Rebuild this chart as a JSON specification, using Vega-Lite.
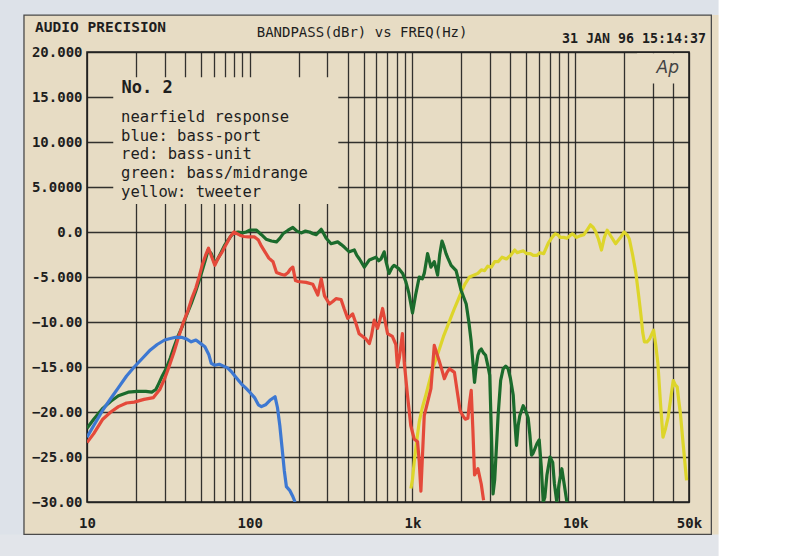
{
  "$schema": "https://vega.github.io/schema/vega-lite/v6.json",
  "width": 602,
  "height": 450,
  "autosize": {"type": "none"},
  "padding": {"left": 87, "top": 52, "right": 111, "bottom": 54},
  "background": "#e7dcc4",
  "config": {"view": {"stroke": "#222222", "strokeWidth": 1.6}, "font": "DejaVu Sans Mono"},
  "datasets": {
    "curves": [
      {"s":"blue","f":10,"db":-22.8},{"s":"blue","f":11,"db":-21.5},{"s":"blue","f":12.5,"db":-19.8},{"s":"blue","f":14,"db":-18.5},{"s":"blue","f":15.6,"db":-17.3},{"s":"blue","f":17.5,"db":-16.0},{"s":"blue","f":19.5,"db":-15.0},{"s":"blue","f":22,"db":-14.0},{"s":"blue","f":24.5,"db":-13.1},{"s":"blue","f":27,"db":-12.5},{"s":"blue","f":30,"db":-12.0},{"s":"blue","f":33,"db":-11.8},{"s":"blue","f":35,"db":-11.7},{"s":"blue","f":38,"db":-11.7},{"s":"blue","f":41,"db":-11.9},{"s":"blue","f":43.7,"db":-12.2},{"s":"blue","f":46.7,"db":-12.0},{"s":"blue","f":50,"db":-12.4},{"s":"blue","f":53,"db":-12.75},{"s":"blue","f":56,"db":-13.6},{"s":"blue","f":58,"db":-14.6},{"s":"blue","f":61,"db":-14.8},{"s":"blue","f":65,"db":-14.7},{"s":"blue","f":69,"db":-14.9},{"s":"blue","f":73,"db":-15.1},{"s":"blue","f":77,"db":-15.5},{"s":"blue","f":81,"db":-16.0},{"s":"blue","f":89,"db":-16.9},{"s":"blue","f":94,"db":-17.3},{"s":"blue","f":100,"db":-17.8},{"s":"blue","f":107,"db":-18.4},{"s":"blue","f":113,"db":-19.2},{"s":"blue","f":118,"db":-19.4},{"s":"blue","f":125,"db":-19.2},{"s":"blue","f":133,"db":-18.7},{"s":"blue","f":143,"db":-18.3},{"s":"blue","f":148,"db":-19.5},{"s":"blue","f":153,"db":-21.5},{"s":"blue","f":158,"db":-24.0},{"s":"blue","f":163,"db":-26.5},{"s":"blue","f":168,"db":-28.3},{"s":"blue","f":176,"db":-28.7},{"s":"blue","f":183,"db":-29.3},{"s":"blue","f":190,"db":-30},

      {"s":"red","f":10,"db":-23.4},{"s":"red","f":11,"db":-22.4},{"s":"red","f":12.5,"db":-20.8},{"s":"red","f":14,"db":-20.0},{"s":"red","f":15.6,"db":-19.4},{"s":"red","f":17.5,"db":-19.0},{"s":"red","f":19.5,"db":-18.9},{"s":"red","f":22.4,"db":-18.6},{"s":"red","f":25.6,"db":-18.4},{"s":"red","f":28,"db":-17.5},{"s":"red","f":30,"db":-16.3},{"s":"red","f":32,"db":-14.9},{"s":"red","f":34.3,"db":-13.3},{"s":"red","f":36.6,"db":-11.6},{"s":"red","f":39,"db":-10.1},{"s":"red","f":41.8,"db":-8.7},{"s":"red","f":44,"db":-7.4},{"s":"red","f":46.7,"db":-6.2},{"s":"red","f":49,"db":-4.9},{"s":"red","f":51,"db":-3.7},{"s":"red","f":53.5,"db":-2.6},{"s":"red","f":55.8,"db":-1.8},{"s":"red","f":58.5,"db":-2.8},{"s":"red","f":61,"db":-3.7},{"s":"red","f":64,"db":-2.9},{"s":"red","f":67,"db":-2.35},{"s":"red","f":70,"db":-1.7},{"s":"red","f":73,"db":-1.1},{"s":"red","f":76,"db":-0.5},{"s":"red","f":80,"db":0.0},{"s":"red","f":84,"db":-0.2},{"s":"red","f":87,"db":-0.35},{"s":"red","f":92,"db":-0.5},{"s":"red","f":98,"db":-0.55},{"s":"red","f":107,"db":-0.55},{"s":"red","f":113,"db":-0.9},{"s":"red","f":117,"db":-1.45},{"s":"red","f":124,"db":-2.2},{"s":"red","f":131,"db":-2.9},{"s":"red","f":139,"db":-3.3},{"s":"red","f":146,"db":-4.5},{"s":"red","f":156,"db":-4.7},{"s":"red","f":164,"db":-4.8},{"s":"red","f":172,"db":-4.5},{"s":"red","f":178,"db":-4.1},{"s":"red","f":184,"db":-3.9},{"s":"red","f":191,"db":-5.4},{"s":"red","f":198,"db":-5.5},{"s":"red","f":222,"db":-5.6},{"s":"red","f":244,"db":-5.8},{"s":"red","f":262,"db":-7.0},{"s":"red","f":275,"db":-5.2},{"s":"red","f":288,"db":-7.1},{"s":"red","f":309,"db":-8.0},{"s":"red","f":325,"db":-7.7},{"s":"red","f":339,"db":-7.4},{"s":"red","f":364,"db":-7.5},{"s":"red","f":380,"db":-8.5},{"s":"red","f":400,"db":-9.6},{"s":"red","f":429,"db":-9.1},{"s":"red","f":450,"db":-10.2},{"s":"red","f":470,"db":-11.3},{"s":"red","f":518,"db":-11.9},{"s":"red","f":543,"db":-12.4},{"s":"red","f":560,"db":-11.5},{"s":"red","f":582,"db":-9.8},{"s":"red","f":610,"db":-10.7},{"s":"red","f":630,"db":-9.8},{"s":"red","f":655,"db":-8.5},{"s":"red","f":680,"db":-10.0},{"s":"red","f":703,"db":-11.3},{"s":"red","f":752,"db":-11.6},{"s":"red","f":790,"db":-12.5},{"s":"red","f":808,"db":-15.0},{"s":"red","f":830,"db":-14.0},{"s":"red","f":867,"db":-11.3},{"s":"red","f":890,"db":-14.5},{"s":"red","f":931,"db":-18.1},{"s":"red","f":976,"db":-21.5},{"s":"red","f":1024,"db":-23.0},{"s":"red","f":1074,"db":-23.3},{"s":"red","f":1100,"db":-25.5},{"s":"red","f":1126,"db":-28.8},{"s":"red","f":1181,"db":-20.4},{"s":"red","f":1238,"db":-18.9},{"s":"red","f":1298,"db":-17.4},{"s":"red","f":1361,"db":-12.6},{"s":"red","f":1410,"db":-13.5},{"s":"red","f":1463,"db":-14.4},{"s":"red","f":1520,"db":-15.4},{"s":"red","f":1570,"db":-16.3},{"s":"red","f":1630,"db":-15.6},{"s":"red","f":1686,"db":-15.2},{"s":"red","f":1750,"db":-15.4},{"s":"red","f":1810,"db":-15.6},{"s":"red","f":1897,"db":-18.1},{"s":"red","f":1960,"db":-19.8},{"s":"red","f":2037,"db":-20.4},{"s":"red","f":2110,"db":-20.8},{"s":"red","f":2189,"db":-20.7},{"s":"red","f":2240,"db":-19.0},{"s":"red","f":2295,"db":-17.6},{"s":"red","f":2350,"db":-22.0},{"s":"red","f":2406,"db":-27.0},{"s":"red","f":2523,"db":-26.3},{"s":"red","f":2645,"db":-28.0},{"s":"red","f":2734,"db":-29.8},

      {"s":"green","f":10,"db":-21.8},{"s":"green","f":11,"db":-20.8},{"s":"green","f":12.5,"db":-19.6},{"s":"green","f":14,"db":-18.8},{"s":"green","f":15.6,"db":-18.2},{"s":"green","f":17.9,"db":-17.8},{"s":"green","f":20.4,"db":-17.7},{"s":"green","f":23,"db":-17.7},{"s":"green","f":25,"db":-17.8},{"s":"green","f":26.5,"db":-17.5},{"s":"green","f":27.5,"db":-16.9},{"s":"green","f":29,"db":-16.0},{"s":"green","f":30.6,"db":-15.2},{"s":"green","f":32.5,"db":-14.0},{"s":"green","f":34.2,"db":-12.8},{"s":"green","f":36.2,"db":-11.6},{"s":"green","f":38.3,"db":-10.6},{"s":"green","f":41,"db":-9.2},{"s":"green","f":43.8,"db":-7.9},{"s":"green","f":46.5,"db":-6.6},{"s":"green","f":48.9,"db":-5.4},{"s":"green","f":51,"db":-4.3},{"s":"green","f":53.4,"db":-3.1},{"s":"green","f":55.5,"db":-2.0},{"s":"green","f":58,"db":-2.4},{"s":"green","f":61,"db":-3.5},{"s":"green","f":64,"db":-2.9},{"s":"green","f":67,"db":-2.2},{"s":"green","f":70,"db":-1.5},{"s":"green","f":73,"db":-1.0},{"s":"green","f":77,"db":-0.4},{"s":"green","f":80,"db":-0.1},{"s":"green","f":85,"db":0.0},{"s":"green","f":90,"db":-0.1},{"s":"green","f":95,"db":0.0},{"s":"green","f":100,"db":0.2},{"s":"green","f":110,"db":0.2},{"s":"green","f":118,"db":-0.3},{"s":"green","f":126,"db":-0.8},{"s":"green","f":136,"db":-1.0},{"s":"green","f":146,"db":-1.1},{"s":"green","f":153,"db":-0.7},{"s":"green","f":160,"db":-0.2},{"s":"green","f":172,"db":0.2},{"s":"green","f":184,"db":0.5},{"s":"green","f":195,"db":0.1},{"s":"green","f":207,"db":-0.1},{"s":"green","f":220,"db":0.1},{"s":"green","f":233,"db":0.0},{"s":"green","f":245,"db":-0.2},{"s":"green","f":256,"db":-0.3},{"s":"green","f":275,"db":0.3},{"s":"green","f":285,"db":-0.2},{"s":"green","f":295,"db":-0.7},{"s":"green","f":316,"db":-1.3},{"s":"green","f":347,"db":-1.1},{"s":"green","f":365,"db":-1.4},{"s":"green","f":382,"db":-1.7},{"s":"green","f":409,"db":-2.2},{"s":"green","f":439,"db":-2.0},{"s":"green","f":455,"db":-2.6},{"s":"green","f":472,"db":-3.0},{"s":"green","f":506,"db":-3.9},{"s":"green","f":543,"db":-3.1},{"s":"green","f":596,"db":-2.8},{"s":"green","f":620,"db":-3.2},{"s":"green","f":640,"db":-3.0},{"s":"green","f":670,"db":-2.2},{"s":"green","f":690,"db":-3.4},{"s":"green","f":718,"db":-4.6},{"s":"green","f":752,"db":-3.9},{"s":"green","f":770,"db":-3.7},{"s":"green","f":827,"db":-4.1},{"s":"green","f":870,"db":-4.6},{"s":"green","f":909,"db":-5.5},{"s":"green","f":950,"db":-6.8},{"s":"green","f":1000,"db":-9.0},{"s":"green","f":1045,"db":-7.0},{"s":"green","f":1100,"db":-5.0},{"s":"green","f":1150,"db":-5.2},{"s":"green","f":1181,"db":-4.6},{"s":"green","f":1238,"db":-2.4},{"s":"green","f":1298,"db":-3.9},{"s":"green","f":1361,"db":-3.3},{"s":"green","f":1427,"db":-4.8},{"s":"green","f":1470,"db":-2.5},{"s":"green","f":1518,"db":-1.0},{"s":"green","f":1560,"db":-1.6},{"s":"green","f":1607,"db":-2.4},{"s":"green","f":1650,"db":-2.9},{"s":"green","f":1727,"db":-3.7},{"s":"green","f":1853,"db":-4.3},{"s":"green","f":1991,"db":-6.5},{"s":"green","f":2138,"db":-8.0},{"s":"green","f":2220,"db":-10.0},{"s":"green","f":2295,"db":-12.2},{"s":"green","f":2350,"db":-14.5},{"s":"green","f":2406,"db":-16.7},{"s":"green","f":2460,"db":-15.0},{"s":"green","f":2523,"db":-13.7},{"s":"green","f":2580,"db":-13.2},{"s":"green","f":2645,"db":-13.0},{"s":"green","f":2720,"db":-13.4},{"s":"green","f":2813,"db":-13.7},{"s":"green","f":2900,"db":-14.8},{"s":"green","f":2982,"db":-15.9},{"s":"green","f":3050,"db":-22.0},{"s":"green","f":3126,"db":-29.1},{"s":"green","f":3200,"db":-27.5},{"s":"green","f":3357,"db":-20.4},{"s":"green","f":3480,"db":-16.5},{"s":"green","f":3605,"db":-15.2},{"s":"green","f":3740,"db":-14.9},{"s":"green","f":3871,"db":-15.2},{"s":"green","f":4000,"db":-16.3},{"s":"green","f":4157,"db":-18.1},{"s":"green","f":4250,"db":-21.0},{"s":"green","f":4357,"db":-23.7},{"s":"green","f":4460,"db":-21.5},{"s":"green","f":4567,"db":-20.4},{"s":"green","f":4787,"db":-19.3},{"s":"green","f":4950,"db":-19.8},{"s":"green","f":5140,"db":-20.7},{"s":"green","f":5260,"db":-22.5},{"s":"green","f":5388,"db":-24.8},{"s":"green","f":5500,"db":-24.6},{"s":"green","f":5648,"db":-24.1},{"s":"green","f":5820,"db":-23.5},{"s":"green","f":6004,"db":-23.1},{"s":"green","f":6180,"db":-26.0},{"s":"green","f":6357,"db":-30},{"s":"green","f":6500,"db":-29.5},{"s":"green","f":6700,"db":-27.0},{"s":"green","f":7001,"db":-25.0},{"s":"green","f":7270,"db":-25.6},{"s":"green","f":7450,"db":-28.0},{"s":"green","f":7704,"db":-30},{"s":"green","f":7950,"db":-28.0},{"s":"green","f":8272,"db":-26.3},{"s":"green","f":8550,"db":-28.0},{"s":"green","f":8884,"db":-30},

      {"s":"yellow","f":978,"db":-28.5},{"s":"yellow","f":1000,"db":-27.5},{"s":"yellow","f":1024,"db":-25.6},{"s":"yellow","f":1060,"db":-23.3},{"s":"yellow","f":1100,"db":-21.1},{"s":"yellow","f":1150,"db":-19.5},{"s":"yellow","f":1209,"db":-18.1},{"s":"yellow","f":1270,"db":-16.6},{"s":"yellow","f":1330,"db":-15.2},{"s":"yellow","f":1400,"db":-14.0},{"s":"yellow","f":1463,"db":-13.0},{"s":"yellow","f":1550,"db":-11.6},{"s":"yellow","f":1646,"db":-10.4},{"s":"yellow","f":1730,"db":-9.4},{"s":"yellow","f":1810,"db":-8.5},{"s":"yellow","f":1900,"db":-7.6},{"s":"yellow","f":1991,"db":-6.7},{"s":"yellow","f":2100,"db":-5.8},{"s":"yellow","f":2240,"db":-5.0},{"s":"yellow","f":2380,"db":-4.8},{"s":"yellow","f":2523,"db":-4.6},{"s":"yellow","f":2650,"db":-4.2},{"s":"yellow","f":2775,"db":-4.3},{"s":"yellow","f":2900,"db":-3.8},{"s":"yellow","f":3052,"db":-3.9},{"s":"yellow","f":3200,"db":-3.3},{"s":"yellow","f":3357,"db":-3.3},{"s":"yellow","f":3550,"db":-2.8},{"s":"yellow","f":3777,"db":-3.0},{"s":"yellow","f":4000,"db":-2.6},{"s":"yellow","f":4250,"db":-2.0},{"s":"yellow","f":4400,"db":-2.3},{"s":"yellow","f":4567,"db":-2.2},{"s":"yellow","f":4800,"db":-2.1},{"s":"yellow","f":5021,"db":-2.4},{"s":"yellow","f":5300,"db":-2.4},{"s":"yellow","f":5522,"db":-2.6},{"s":"yellow","f":5800,"db":-2.6},{"s":"yellow","f":6074,"db":-2.3},{"s":"yellow","f":6400,"db":-2.4},{"s":"yellow","f":6840,"db":-1.2},{"s":"yellow","f":7200,"db":-0.6},{"s":"yellow","f":7520,"db":-0.2},{"s":"yellow","f":7800,"db":-0.3},{"s":"yellow","f":8078,"db":-0.6},{"s":"yellow","f":8500,"db":-0.6},{"s":"yellow","f":8884,"db":-0.7},{"s":"yellow","f":9300,"db":-0.4},{"s":"yellow","f":9600,"db":-0.2},{"s":"yellow","f":10200,"db":-0.6},{"s":"yellow","f":10800,"db":-0.4},{"s":"yellow","f":11300,"db":-0.3},{"s":"yellow","f":11900,"db":0.3},{"s":"yellow","f":12400,"db":0.8},{"s":"yellow","f":12900,"db":0.5},{"s":"yellow","f":13300,"db":0.1},{"s":"yellow","f":13900,"db":-0.8},{"s":"yellow","f":14500,"db":-2.0},{"s":"yellow","f":15100,"db":-0.6},{"s":"yellow","f":15700,"db":0.2},{"s":"yellow","f":16600,"db":-0.5},{"s":"yellow","f":17700,"db":-1.3},{"s":"yellow","f":18800,"db":-0.7},{"s":"yellow","f":20000,"db":0.0},{"s":"yellow","f":21000,"db":-0.4},{"s":"yellow","f":21500,"db":-0.8},{"s":"yellow","f":22500,"db":-2.5},{"s":"yellow","f":23600,"db":-4.6},{"s":"yellow","f":24500,"db":-7.0},{"s":"yellow","f":25400,"db":-9.4},{"s":"yellow","f":26000,"db":-11.2},{"s":"yellow","f":26600,"db":-12.2},{"s":"yellow","f":27600,"db":-12.2},{"s":"yellow","f":28600,"db":-11.9},{"s":"yellow","f":30300,"db":-10.9},{"s":"yellow","f":31200,"db":-12.5},{"s":"yellow","f":32200,"db":-14.6},{"s":"yellow","f":33400,"db":-19.0},{"s":"yellow","f":34600,"db":-22.8},{"s":"yellow","f":35900,"db":-21.8},{"s":"yellow","f":37200,"db":-20.6},{"s":"yellow","f":38600,"db":-18.5},{"s":"yellow","f":40000,"db":-16.5},{"s":"yellow","f":41200,"db":-17.0},{"s":"yellow","f":42300,"db":-17.2},{"s":"yellow","f":43300,"db":-18.8},{"s":"yellow","f":44300,"db":-20.2},{"s":"yellow","f":46000,"db":-23.5},{"s":"yellow","f":48300,"db":-27.6}
    ]
  },
  "layer": [
    {
      "data": {"values": [{}]},
      "mark": {"type": "rect", "fill": "#dde2e9"},
      "encoding": {
        "x": {"datum": 1, "type": "quantitative", "scale": {"type": "log", "domain": [10, 50000], "nice": false}, "axis": {"title": null, "values": [10,20,30,40,50,60,70,80,90,100,200,300,400,500,600,700,800,900,1000,2000,3000,4000,5000,6000,7000,8000,9000,10000,20000,30000,40000,50000], "labelExpr": "indexof([10,100,1000,10000,50000], datum.value) >= 0 ? (datum.value >= 1000 ? (datum.value/1000) + 'k' : '' + datum.value) : ''", "grid": true, "gridColor": "#1e1e1e", "gridWidth": 1.3, "gridOpacity": 0.9, "ticks": false, "domain": false, "labelPadding": 14, "labelFontSize": 14, "labelFont": "DejaVu Sans Mono", "labelFontWeight": "bold", "labelColor": "#1e1e1e", "labelOverlap": false, "labelFlush": false, "labelBound": false}},
        "x2": {"datum": 4.1},
        "y": {"datum": -100, "type": "quantitative", "scale": {"domain": [-30, 20], "nice": false, "zero": false}, "axis": {"title": null, "values": [-30,-25,-20,-15,-10,-5,0,5,10,15,20], "labelExpr": "datum.value >= 10 ? format(datum.value, '.3f') : datum.value == 5 ? '5.0000' : datum.value == 0 ? '0.0' : datum.value == -5 ? '-5.000' : format(datum.value, '.2f')", "grid": true, "gridColor": "#1e1e1e", "gridWidth": 1.3, "gridOpacity": 0.9, "ticks": false, "domain": false, "labelPadding": 5, "labelFontSize": 14, "labelFont": "DejaVu Sans Mono", "labelFontWeight": "bold", "labelColor": "#1e1e1e", "labelOverlap": false}},
        "y2": {"datum": 100}
      }
    },
    {
      "data": {"values": [{}]},
      "mark": {"type": "rect", "fill": "#dde2e9"},
      "encoding": {
        "x": {"datum": 1, "type": "quantitative"}, "x2": {"datum": 1000000},
        "y": {"datum": 24.1, "type": "quantitative"}, "y2": {"datum": 100}
      }
    },
    {
      "data": {"values": [{}]},
      "mark": {"type": "rect", "fill": "#e2e5ea"},
      "encoding": {
        "x": {"datum": 1, "type": "quantitative"}, "x2": {"datum": 1000000},
        "y": {"datum": -33.6, "type": "quantitative"}, "y2": {"datum": -100}
      }
    },
    {
      "data": {"values": [{}]},
      "mark": {"type": "rect", "fill": "#ffffff"},
      "encoding": {
        "x": {"datum": 76000, "type": "quantitative"}, "x2": {"datum": 1000000},
        "y": {"datum": -100, "type": "quantitative"}, "y2": {"datum": 100}
      }
    },
    {
      "data": {"values": [{}]},
      "mark": {"type": "rect", "filled": false, "stroke": "#4a4a4a", "strokeWidth": 1.3},
      "encoding": {
        "x": {"datum": 4.1, "type": "quantitative"}, "x2": {"datum": 68600},
        "y": {"datum": 24.1, "type": "quantitative"}, "y2": {"datum": -33.6}
      }
    },
    {
      "data": {"values": [{}]},
      "mark": {"type": "rect", "fill": "#e7dcc4"},
      "encoding": {
        "x": {"datum": 14.5, "type": "quantitative"}, "x2": {"datum": 350},
        "y": {"datum": 17.2, "type": "quantitative"}, "y2": {"datum": 3.1}
      }
    },
    {
      "data": {"values": [{}]},
      "mark": {"type": "rect", "fill": "#e7dcc4"},
      "encoding": {
        "x": {"datum": 24000, "type": "quantitative"}, "x2": {"datum": 49300},
        "y": {"datum": 16.5, "type": "quantitative"}, "y2": {"datum": 19.85}
      }
    },
    {
      "data": {"name": "curves"},
      "transform": [{"filter": "datum.s == 'yellow'"}],
      "mark": {"type": "line", "color": "#ddd52a", "strokeWidth": 3.2, "strokeJoin": "round", "clip": true},
      "encoding": {"x": {"field": "f", "type": "quantitative"}, "y": {"field": "db", "type": "quantitative"}}
    },
    {
      "data": {"name": "curves"},
      "transform": [{"filter": "datum.s == 'green'"}],
      "mark": {"type": "line", "color": "#1b6b2c", "strokeWidth": 3.2, "strokeJoin": "round", "clip": true},
      "encoding": {"x": {"field": "f", "type": "quantitative"}, "y": {"field": "db", "type": "quantitative"}}
    },
    {
      "data": {"name": "curves"},
      "transform": [{"filter": "datum.s == 'red'"}],
      "mark": {"type": "line", "color": "#e4493a", "strokeWidth": 3.2, "strokeJoin": "round", "clip": true},
      "encoding": {"x": {"field": "f", "type": "quantitative"}, "y": {"field": "db", "type": "quantitative"}}
    },
    {
      "data": {"name": "curves"},
      "transform": [{"filter": "datum.s == 'blue'"}],
      "mark": {"type": "line", "color": "#3d78d2", "strokeWidth": 3.2, "strokeJoin": "round", "clip": true},
      "encoding": {"x": {"field": "f", "type": "quantitative"}, "y": {"field": "db", "type": "quantitative"}}
    },
    {
      "data": {"values": [{}]},
      "mark": {"type": "text", "text": "AUDIO PRECISION", "align": "left", "baseline": "middle", "fontSize": 14.5, "fontWeight": "bold", "font": "DejaVu Sans Mono", "color": "#1e1e1e"},
      "encoding": {"x": {"datum": 4.8, "type": "quantitative"}, "y": {"datum": 22.7, "type": "quantitative"}}
    },
    {
      "data": {"values": [{}]},
      "mark": {"type": "text", "text": "BANDPASS(dBr) vs FREQ(Hz)", "align": "center", "baseline": "middle", "fontSize": 14, "font": "DejaVu Sans Mono", "color": "#1e1e1e"},
      "encoding": {"x": {"datum": 490, "type": "quantitative"}, "y": {"datum": 22.1, "type": "quantitative"}}
    },
    {
      "data": {"values": [{}]},
      "mark": {"type": "text", "text": "31 JAN 96 15:14:37", "align": "right", "baseline": "middle", "fontSize": 13.3, "fontWeight": "bold", "font": "DejaVu Sans Mono", "color": "#1e1e1e"},
      "encoding": {"x": {"datum": 63700, "type": "quantitative"}, "y": {"datum": 21.4, "type": "quantitative"}}
    },
    {
      "data": {"values": [{}]},
      "mark": {"type": "text", "text": "No. 2", "align": "left", "baseline": "alphabetic", "fontSize": 17, "fontWeight": "bold", "font": "DejaVu Sans Mono", "color": "#1e1e1e"},
      "encoding": {"x": {"datum": 16.3, "type": "quantitative"}, "y": {"datum": 15.5, "type": "quantitative"}}
    },
    {
      "data": {"values": [{}]},
      "mark": {"type": "text", "text": ["nearfield response", "blue: bass-port", "red: bass-unit", "green: bass/midrange", "yellow: tweeter"], "lineHeight": 18.6, "align": "left", "baseline": "alphabetic", "fontSize": 15.5, "font": "DejaVu Sans Mono", "color": "#1e1e1e"},
      "encoding": {"x": {"datum": 16.2, "type": "quantitative"}, "y": {"datum": 12.2, "type": "quantitative"}}
    },
    {
      "data": {"values": [{}]},
      "mark": {"type": "text", "text": "Ap", "align": "center", "baseline": "middle", "fontSize": 17, "fontStyle": "italic", "font": "DejaVu Sans", "color": "#444444"},
      "encoding": {"x": {"datum": 37000, "type": "quantitative"}, "y": {"datum": 18.2, "type": "quantitative"}}
    }
  ]
}
